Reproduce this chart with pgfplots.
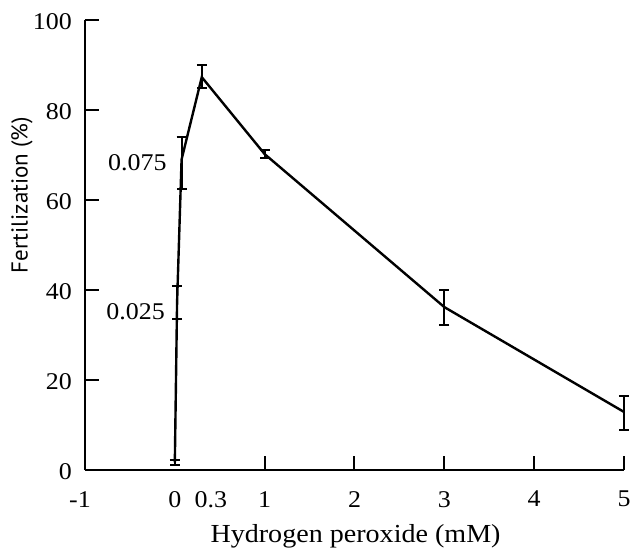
\documentclass[border=0pt]{standalone}
\usepackage{fontspec}
\setmainfont{Liberation Serif}[FakeStretch=1.08]
\newfontfamily\ylabfont{PT Sans}
\usepackage{pgfplots}
\pgfplotsset{compat=1.18}
\begin{document}
\begin{tikzpicture}
\begin{axis}[
  name=ax, at={(0,0)}, anchor=south west,
  scale only axis, width=539bp, height=450bp,
  xmin=-1, xmax=5, ymin=0, ymax=100,
  axis lines=left, axis line style={-, line width=2bp},
  clip=false,
  /pgf/number format/assume math mode=true,
  xtick={1,2,3,4,5},
  xticklabels={1,2,3,4,5},
  extra x ticks={-1,0,0.3},
  extra x tick labels={-1\hspace*{10bp},0,\hspace*{18bp}0.3},
  extra x tick style={major tick length=0pt, tick style={draw=none}},
  ytick={0,20,40,60,80,100},
  yticklabels={0,20,40,60,80,100},
  tick align=inside,
  tick style={line width=2bp, black},
  major tick length=14bp,
  yticklabel style={font=\fontsize{24bp}{28bp}\selectfont, inner sep=0pt, anchor=east, xshift=-13bp, yshift=-2bp},
  xticklabel style={font=\fontsize{24bp}{28bp}\selectfont, inner sep=0pt, anchor=north, yshift=-21bp},
  xlabel={Hydrogen peroxide (mM)},
  xlabel style={font=\fontsize{26bp}{30bp}\selectfont, at={(axis description cs:0.502,0)}, anchor=base, inner sep=0pt, yshift=-72bp},
  ylabel={Fertilization (\%)},
  ylabel style={font=\ylabfont\fontsize{23bp}{27bp}\selectfont, at={(axis description cs:0,0.611)}, anchor=center, inner sep=0pt, yshift=63bp},
]
\addplot[black, line width=2.4bp, mark=none,
  error bars/.cd, y dir=both, y explicit,
  error bar style={line width=2bp, black},
  error mark options={rotate=90, line width=2bp, mark size=5bp, black}]
  coordinates {
  (0,1.7) +- (0,0.6)
  (0.025,37.2) +- (0,3.6)
  (0.075,69) += (0,5.1) -= (0,6.5)
  (0.3,87.3) += (0,2.6) -= (0,2.4)
  (1,70.2) +- (0,0.9)
  (3,36.2) +- (0,3.9)
  (5,12.9) += (0,3.6) -= (0,4.0)
  };
\node[anchor=east, inner sep=0pt, font=\fontsize{24bp}{28bp}\selectfont] at (axis cs:-0.09,68.2) {0.075};
\node[anchor=east, inner sep=0pt, font=\fontsize{24bp}{28bp}\selectfont] at (axis cs:-0.11,35.2) {0.025};
\end{axis}
\pgfresetboundingbox
\path[use as bounding box] (-85bp,-78bp) rectangle (546bp,470bp);
\end{tikzpicture}
\end{document}
